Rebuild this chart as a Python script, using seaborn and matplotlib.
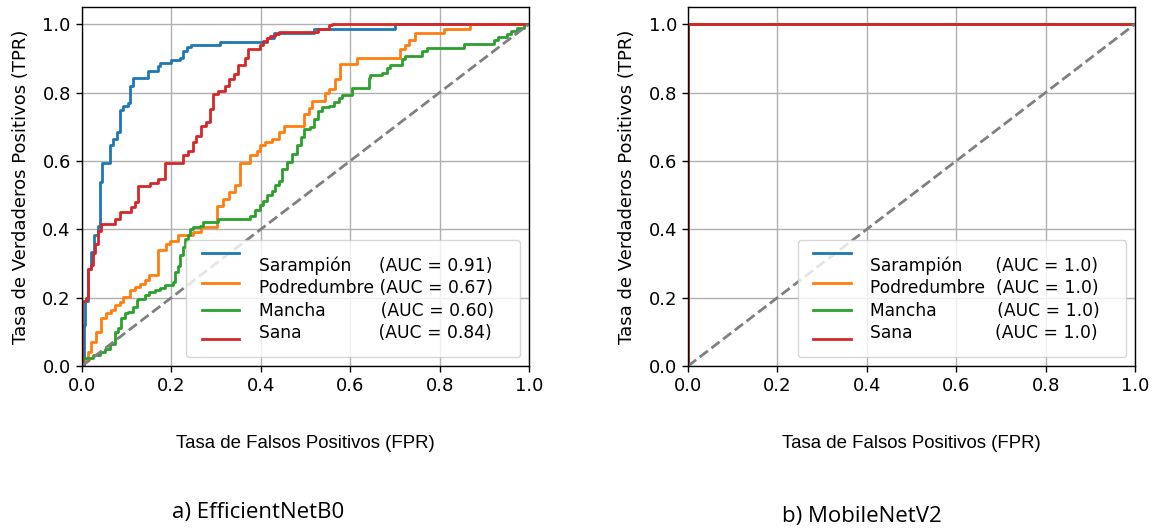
import numpy as np
import seaborn as sns
import matplotlib.pyplot as plt
from matplotlib.legend_handler import HandlerLine2D

clases = ['Sarampión', 'Podredumbre', 'Mancha', 'Sana']
colores = ['#1f77b4', '#ff7f0e', '#2ca02c', '#d62728']

# EfficientNetB0 - curvas ROC por clase
fpr_sar = [0, 0.004, 0.006, 0.013, 0.021, 0.028, 0.036, 0.040, 0.045, 0.062, 0.069, 0.079,
           0.084, 0.092, 0.103, 0.107, 0.114, 0.148, 0.170, 0.174, 0.200, 0.219, 0.226, 0.234,
           0.245, 0.308, 0.413, 0.430, 0.520, 0.700, 1.0]
tpr_sar = [0, 0.12, 0.19, 0.285, 0.333, 0.382, 0.411, 0.537, 0.595, 0.645, 0.665, 0.685,
           0.75, 0.76, 0.77, 0.82, 0.843, 0.864, 0.877, 0.887, 0.895, 0.90, 0.92, 0.932,
           0.94, 0.947, 0.96, 0.975, 0.985, 1.0, 1.0]

fpr_pod = [0, 0.002, 0.013, 0.021, 0.032, 0.043, 0.054, 0.066, 0.073, 0.084, 0.092, 0.107,
           0.118, 0.129, 0.140, 0.151, 0.170, 0.189, 0.196, 0.215, 0.249, 0.267, 0.301, 0.316,
           0.328, 0.343, 0.354, 0.376, 0.391, 0.399, 0.410, 0.425, 0.440, 0.451, 0.496, 0.507,
           0.514, 0.544, 0.552, 0.567, 0.578, 0.615, 0.712, 0.723, 0.731, 0.746, 0.809, 0.869, 1.0]
tpr_pod = [0, 0.017, 0.042, 0.071, 0.10, 0.139, 0.154, 0.163, 0.178, 0.188, 0.202, 0.222,
           0.231, 0.241, 0.251, 0.265, 0.338, 0.358, 0.367, 0.382, 0.392, 0.406, 0.469, 0.489,
           0.508, 0.53, 0.595, 0.616, 0.63, 0.645, 0.655, 0.665, 0.684, 0.703, 0.737, 0.756,
           0.776, 0.80, 0.81, 0.839, 0.882, 0.902, 0.926, 0.94, 0.955, 0.975, 0.987, 1.0, 1.0]

fpr_man = [0, 0.002, 0.025, 0.040, 0.051, 0.062, 0.073, 0.081, 0.088, 0.096, 0.103, 0.114,
           0.122, 0.125, 0.140, 0.151, 0.163, 0.174, 0.185, 0.204, 0.207, 0.215, 0.219, 0.226,
           0.230, 0.237, 0.241, 0.249, 0.263, 0.271, 0.304, 0.376, 0.387, 0.399, 0.406, 0.414,
           0.425, 0.432, 0.440, 0.447, 0.458, 0.470, 0.481, 0.490, 0.496, 0.510, 0.518, 0.529,
           0.537, 0.552, 0.563, 0.575, 0.581, 0.604, 0.641, 0.645, 0.671, 0.682, 0.690, 0.716,
           0.723, 0.761, 0.772, 0.854, 0.921, 0.930, 0.951, 0.960, 0.973, 0.988, 1.0]
tpr_man = [0, 0.022, 0.032, 0.042, 0.05, 0.065, 0.10, 0.11, 0.139, 0.154, 0.158, 0.173,
           0.192, 0.197, 0.207, 0.217, 0.222, 0.227, 0.236, 0.246, 0.275, 0.294, 0.324, 0.348,
           0.372, 0.382, 0.401, 0.406, 0.411, 0.42, 0.43, 0.44, 0.455, 0.47, 0.484, 0.50,
           0.513, 0.528, 0.54, 0.577, 0.597, 0.62, 0.645, 0.67, 0.694, 0.70, 0.723, 0.747,
           0.757, 0.761, 0.772, 0.785, 0.793, 0.812, 0.842, 0.85, 0.858, 0.873, 0.88, 0.897,
           0.907, 0.921, 0.931, 0.943, 0.955, 0.962, 0.97, 0.98, 0.99, 1.0, 1.0]

fpr_san = [0, 0.001, 0.010, 0.013, 0.020, 0.025, 0.030, 0.035, 0.042, 0.074, 0.085, 0.110,
           0.118, 0.126, 0.152, 0.171, 0.186, 0.226, 0.237, 0.248, 0.256, 0.267, 0.278, 0.286,
           0.293, 0.304, 0.319, 0.329, 0.339, 0.350, 0.365, 0.371, 0.398, 0.406, 0.413, 0.421,
           0.432, 0.440, 0.529, 0.552, 0.560, 1.0]
tpr_san = [0, 0.19, 0.20, 0.285, 0.295, 0.33, 0.357, 0.396, 0.416, 0.43, 0.45, 0.464,
           0.48, 0.526, 0.534, 0.546, 0.595, 0.616, 0.63, 0.655, 0.674, 0.703, 0.713, 0.752,
           0.796, 0.805, 0.82, 0.84, 0.855, 0.88, 0.90, 0.927, 0.94, 0.95, 0.96, 0.965,
           0.97, 0.978, 0.987, 0.997, 1.0, 1.0]

auc_b0 = [0.91, 0.67, 0.60, 0.84]
espacios_b0 = [5, 1, 10, 14]

# MobileNetV2 - clasificacion perfecta en todas las clases
fpr_mn = [0.0, 0.0, 1.0]
tpr_mn = [0.0, 1.0, 1.0]
auc_mn = [1.0, 1.0, 1.0, 1.0]
espacios_mn = [6, 2, 11, 15]

curvas_b0 = [(fpr_sar, tpr_sar), (fpr_pod, tpr_pod), (fpr_man, tpr_man), (fpr_san, tpr_san)]
curvas_mn = [(fpr_mn, tpr_mn)] * 4

plt.rcParams['font.size'] = 13
plt.rcParams['axes.linewidth'] = 1.0


class LineaDesplazada(HandlerLine2D):
    def __init__(self, dy, **kw):
        super().__init__(**kw)
        self.dy = dy

    def create_artists(self, legend, orig_handle, xdescent, ydescent, width, height, fontsize, trans):
        arts = super().create_artists(legend, orig_handle, xdescent, ydescent, width, height, fontsize, trans)
        for a in arts:
            a.set_ydata(np.asarray(a.get_ydata(), dtype=float) + self.dy)
        return arts


def dibujar(ax, curvas, aucs, espacios, fmt):
    etiquetas = []
    for nombre, color, (fx, ty), auc, n in zip(clases, colores, curvas, aucs, espacios):
        etiqueta = nombre + ' ' * n + '(AUC = ' + fmt.format(auc) + ')  '
        etiquetas.append(etiqueta)
        sns.lineplot(x=fx, y=ty, ax=ax, color=color, lw=2, estimator=None, sort=False,
                     drawstyle='steps-post', label=etiqueta)
    handles = ax.get_lines()[:4]
    sns.lineplot(x=[0, 1], y=[0, 1], ax=ax, color='gray', lw=2, linestyle='--')
    desplaz = [7.2, 2.2, -1.4, -5.8]
    ax.legend(handles, etiquetas, loc='lower right', fontsize=12.3, labelspacing=0.2,
              handleheight=1.3, borderpad=0.9, handlelength=2.2, handletextpad=1.15,
              handler_map={h: LineaDesplazada(d) for h, d in zip(handles, desplaz)})
    ax.set_xlim(0, 1)
    ax.set_ylim(0, 1.05)
    ax.set_xticks(np.arange(0, 1.01, 0.2))
    ax.set_yticks(np.arange(0, 1.01, 0.2))
    ax.grid(True, color='#b0b0b0', lw=1)
    ax.tick_params(width=1, length=4.5)
    ax.set_ylabel('Tasa de Verdaderos Positivos (TPR)', fontsize=13, labelpad=9)
    ax.set_xlabel('Tasa de Falsos Positivos (FPR)', fontsize=13.4, labelpad=29,
                  family=['Liberation Sans Narrow', 'Liberation Sans', 'DejaVu Sans'])


fig = plt.figure(figsize=(11.53, 5.29), dpi=100)
ax1 = fig.add_axes([0.0711, 0.3081, 0.3877, 0.6786])
ax2 = fig.add_axes([0.5967, 0.3081, 0.3877, 0.6786])

dibujar(ax1, curvas_b0, auc_b0, espacios_b0, '{:.2f}')
dibujar(ax2, curvas_mn, auc_mn, espacios_mn, '{:.1f}')

fig.text(0.2238, 0.032, 'a) EfficientNetB0', ha='center', va='center',
         family=['Open Sans', 'DejaVu Sans'], fontsize=16)
fig.text(0.7476, 0.023, 'b) MobileNetV2', ha='center', va='center',
         family=['Open Sans', 'DejaVu Sans'], fontsize=16)

fig.savefig('out.png', dpi=100)
